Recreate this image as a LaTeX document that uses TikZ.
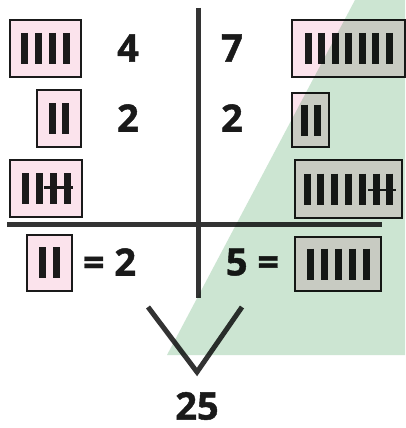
\documentclass[tikz,border=0pt]{standalone}
\usepackage{fontspec}
\setmainfont{Open Sans}[BoldFeatures={FakeBold=1.2}]
\usetikzlibrary{calc}
\definecolor{ink}{HTML}{1A1A1A}
\definecolor{rulegray}{HTML}{333333}
\definecolor{tallybg}{HTML}{FBE3EC}
\definecolor{wash}{HTML}{CCE5D2}
\tikzset{
  tallybox/.style={draw=ink,fill=tallybg,line width=2pt,inner sep=0pt},
  bar/.style={draw=ink,line width=7pt},
  strike/.style={draw=ink,line width=2.5pt},
  digit/.style={font=\fontsize{38}{40}\selectfont\bfseries,text=ink,inner sep=0pt},
  axis/.style={draw=rulegray,line width=5pt}
}
% tally marks centred in a box: node, count, spacing
\newcommand{\tallies}[3]{%
  \foreach \k in {1,...,#2}
    \draw[bar] ($(#1)+({(\k-(#2+1)/2)*#3},-15.5)$) -- ++(0,31);
}

\begin{document}
\begin{tikzpicture}[x=1pt,y=-1pt]
  \useasboundingbox[fill=white] (0,0) rectangle (405,428);

  % upper rows
  \node[tallybox,minimum width=71pt,minimum height=57pt] (l1) at (45.5,48.5) {};
  \tallies{l1}{4}{14}
  \node[digit] (n4) at (128,48) {4};
  \node[digit] (n7) at (232,48) {7};
  \node[tallybox,minimum width=113pt,minimum height=57pt] (r1) at (348.5,48.5) {};
  \tallies{r1}{7}{13.5}

  \node[tallybox,minimum width=44pt,minimum height=57pt] (l2) at (59,118.5) {};
  \tallies{l2}{2}{13.5}
  \node[digit] (n2a) at (128,118) {2};
  \node[digit] (n2b) at (232,118) {2};
  \node[tallybox,minimum width=37pt,minimum height=54pt] (r2) at (310.5,120) {};
  \tallies{r2}{2}{13}

  \node[tallybox,minimum width=72pt,minimum height=57pt] (l3) at (46,188.5) {};
  \tallies{l3}{4}{14}
  \draw[strike] ($(l3)+(-2,-1)$) -- ($(l3)+(27,-1)$);
  \node[tallybox,minimum width=107pt,minimum height=58pt] (r3) at (348.5,189) {};
  \tallies{r3}{7}{13.8}
  \draw[strike] ($(r3)+(19.5,1)$) -- ($(r3)+(47.5,1)$);

  % cross lines
  \coordinate (vtop) at (198.5,8);
  \coordinate (vbot) at (198.5,298);
  \coordinate (hl) at (7,224);
  \coordinate (hr) at (382,224);
  \draw[axis] (vtop) -- (vbot);
  \draw[axis] (hl) -- (hr);

  % lower row
  \node[tallybox,minimum width=45pt,minimum height=56pt] (l4) at (49.5,262.5) {};
  \tallies{l4}{2}{13.5}
  \node[digit] (eq2) at (109.5,262) {= 2};
  \node[digit] (eq5) at (252.5,262) {5 =};
  \node[tallybox,minimum width=86pt,minimum height=54pt] (r4) at (338,264) {};
  \tallies{r4}{5}{14}

  % check mark and product
  \coordinate (vl) at (148,307);
  \coordinate (vm) at (197,372);
  \coordinate (vr) at (242,307);
  \draw[axis,line join=miter] (vl) -- (vm) -- (vr);
  \node[digit] (prod) at (197,406) {25};

  % green wash
  \fill[wash,blend mode=multiply] (355,0) -- (405,0) -- (405,355) -- (167,355) -- cycle;
\end{tikzpicture}
\end{document}
